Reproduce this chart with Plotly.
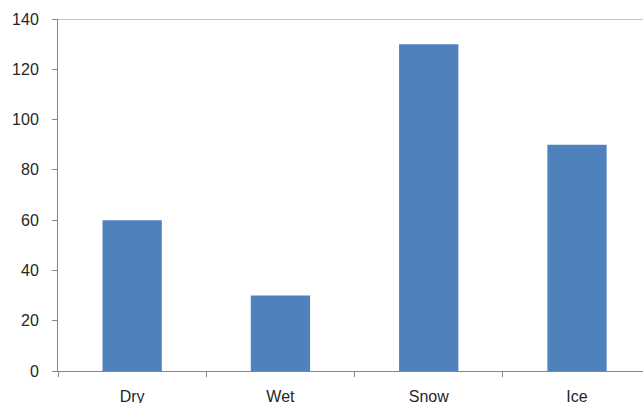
import plotly.graph_objects as go

conditions = ["Dry", "Wet", "Snow", "Ice"]
counts = [60, 30, 130, 90]
y_ticks = [0, 20, 40, 60, 80, 100, 120, 140]

axis_grey = "#868686"
text_col = "#262626"

fig = go.Figure(
    go.Bar(x=conditions, y=counts, marker=dict(color="#4F81BD", line=dict(width=0)))
)

fig.update_layout(
    width=643,
    height=403,
    margin=dict(l=58, r=0, t=19, b=32),
    paper_bgcolor="white",
    plot_bgcolor="white",
    bargap=0.6,
    showlegend=False,
    font=dict(family="Liberation Sans, Arial, sans-serif", size=16, color=text_col),
)

fig.update_xaxes(
    range=[-0.5, 3.445],
    showline=True,
    linecolor=axis_grey,
    linewidth=1,
    ticks="outside",
    tickson="boundaries",
    ticklen=5,
    tickcolor=axis_grey,
    showgrid=False,
    ticklabelstandoff=11,
    automargin=False,
)

fig.update_yaxes(
    range=[0, 140],
    tickvals=y_ticks,
    showline=True,
    linecolor=axis_grey,
    linewidth=1,
    ticks="outside",
    ticklen=5,
    tickcolor=axis_grey,
    showgrid=False,
    zeroline=False,
    ticklabelstandoff=10,
    automargin=False,
)

# Top border line at the axis maximum
fig.add_shape(
    type="line", xref="paper", yref="y", x0=0, x1=1, y0=140, y1=140,
    line=dict(color=axis_grey, width=1),
)

fig.write_html("out.html")
